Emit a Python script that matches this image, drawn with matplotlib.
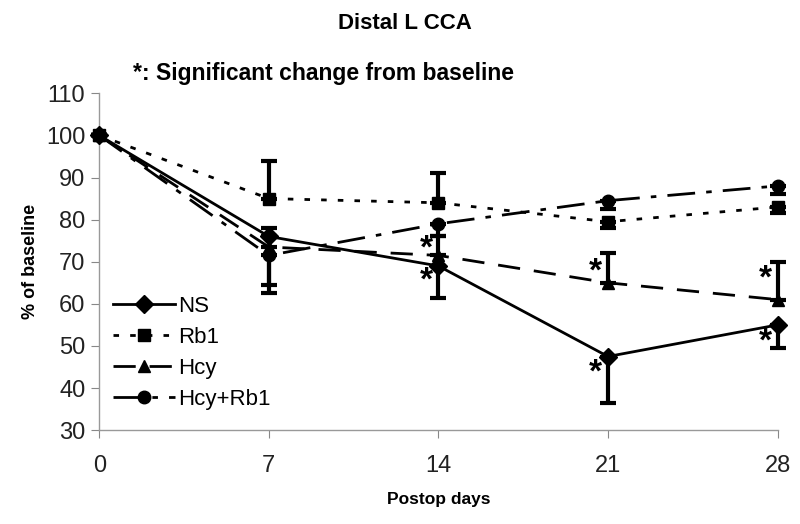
import numpy as np
import matplotlib.pyplot as plt

plt.rcParams['font.family'] = ['Liberation Sans', 'DejaVu Sans']

days = [0, 7, 14, 21, 28]

ns = [100, 76, 69, 47.5, 55]
ns_lo = [0, 0, 7.5, 11, 5.5]
ns_hi = [0, 2, 0, 0, 0]

rb1 = [100, 85, 84, 79.5, 83]
rb1_lo = [0, 0, 0, 1.5, 1.5]
rb1_hi = [0, 9, 7, 0, 0]

hcy = [100, 73.5, 71.5, 65, 61]
hcy_lo = [0, 9, 0, 0, 0]
hcy_hi = [0, 0, 4.5, 7, 9]

hcyrb1 = [100, 71.5, 79, 84.5, 88]
hcyrb1_lo = [0, 9, 3, 2, 2]
hcyrb1_hi = [0, 0, 0, 0, 0]

# significance stars (x, y)
star_x = [13.5, 13.5, 20.5, 20.5, 27.5, 27.5]
star_y = [73.0, 65.5, 67.5, 43.5, 66.0, 51.0]

series = [
    ("NS", ns, ns_lo, ns_hi, 'D', '-'),
    ("Rb1", rb1, rb1_lo, rb1_hi, 's', (0, (2, 4))),
    ("Hcy", hcy, hcy_lo, hcy_hi, '^', (0, (8, 5))),
    ("Hcy+Rb1", hcyrb1, hcyrb1_lo, hcyrb1_hi, 'o', (0, (10, 4, 2, 4))),
]

fig = plt.figure(figsize=(8, 5.24), dpi=100)
ax = fig.add_axes([0.124, 0.179, 0.848, 0.643])

for name, vals, lo, hi, mk, ls in series:
    eb = ax.errorbar(days, vals, yerr=[lo, hi], fmt='none', ecolor='black',
                     elinewidth=3, capsize=6, capthick=3, zorder=3)
    for art in eb.lines[1] + eb.lines[2]:
        art.set_clip_on(False)
    ax.plot(days, vals, color='black', linestyle=ls, linewidth=2,
            marker=mk, markersize=9, label=name, zorder=4, clip_on=False)

for x, y in zip(star_x, star_y):
    ax.text(x, y, '*', fontsize=24, fontweight='bold', ha='center', va='center')

ax.set_xlim(0, 28)
ax.set_ylim(30, 110)
ax.set_xticks(days)
ax.set_yticks(np.arange(30, 111, 10))
ax.tick_params(axis='both', labelsize=17, colors='#888888', labelcolor='#222222',
               direction='out', length=6)
ax.tick_params(axis='x', pad=12)
ax.tick_params(axis='y', pad=4)
for side in ['top', 'right']:
    ax.spines[side].set_visible(False)
for side in ['left', 'bottom']:
    ax.spines[side].set_color('#999999')
    ax.spines[side].set_linewidth(1)

ax.set_xlabel('Postop days', fontsize=12.5, fontweight='bold', labelpad=11)
ax.set_ylabel('% of baseline', fontsize=13, fontweight='bold', labelpad=5)
fig.text(0.506, 0.955, 'Distal L CCA', fontsize=16, fontweight='bold', ha='center', va='center')
ax.text(0.05, 1.025, '*: Significant change from baseline', transform=ax.transAxes,
        fontsize=16.5, fontweight='bold', ha='left', va='bottom')

ax.legend(loc='lower left', bbox_to_anchor=(0.0, 0.02), frameon=False, fontsize=16,
          handlelength=2.8, labelspacing=0.45, handletextpad=0.15, borderaxespad=0.2)

fig.savefig('out.png', dpi=100)
